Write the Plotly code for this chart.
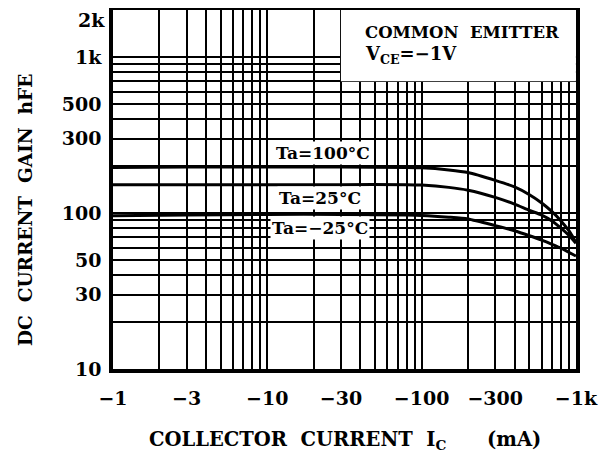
import plotly.graph_objects as go
import math

# ---- data ----
ic_ma = [1, 3, 10, 30, 80, 100, 150, 200, 300, 400, 500, 600, 700, 800, 900, 1000]
hfe_100 = [196, 197, 197, 197, 196, 195, 189, 182, 162, 147, 131, 116, 102, 89, 77, 65]
hfe_25 = [152, 152, 152, 152, 152, 151, 146, 140, 126, 114, 104, 97, 89, 80, 72, 64]
hfe_m25 = [96, 97, 98, 98, 97, 96.5, 94, 91.5, 83, 77, 71.5, 67, 63, 59.5, 56, 53]
series = [("Ta=100°C", hfe_100), ("Ta=25°C", hfe_25), ("Ta=−25°C", hfe_m25)]

x_tickvals = [m * d for d in (1, 10, 100) for m in range(1, 10)] + [1000]
x_labels = {1: "−1", 3: "−3", 10: "−10", 30: "−30", 100: "−100", 300: "−300", 1000: "−1k"}
y_tickvals = [m * d for d in (10, 100) for m in range(1, 10)] + [1000, 2000]
y_labels = {10: "10", 30: "30", 50: "50", 100: "100", 300: "300", 500: "500", 1000: "1k", 2000: "2k"}
Y_TOP = 2000  # top tick: its label is nudged down as an annotation so it stays on the page

FONT = "DejaVu Serif"
TICKFONT = dict(family=FONT, size=19, color="black", weight="bold")

fig = go.Figure()
for name, vals in series:
    fig.add_trace(go.Scatter(x=ic_ma, y=vals, mode="lines", name=name,
                             line=dict(color="black", width=3, shape="spline", smoothing=0.6),
                             showlegend=False))

lg = math.log10
# label annotations (positions in log units for log axes)
labels = [("Ta=100°C", 23.0, 243), ("Ta=25°C", 22.0, 125), ("Ta=−25°C", 22.0, 80)]
for txt, xv, yv in labels:
    fig.add_annotation(x=lg(xv), y=lg(yv), xref="x", yref="y", text=txt, showarrow=False,
                       font=dict(family=FONT, size=17, color="black", weight="bold"),
                       bgcolor="white", borderpad=1)

# condition box
fig.add_shape(type="rect", xref="x", yref="y", x0=30, x1=1000, y0=700, y1=2000,
              fillcolor="white", line=dict(width=0), layer="between")
fig.add_annotation(x=lg(42), y=lg(1440), xref="x", yref="y", xanchor="left",
                   text="COMMON\u00a0\u00a0EMITTER", showarrow=False,
                   font=dict(family=FONT, size=16.5, color="black", weight="bold"))
fig.add_annotation(x=lg(42), y=lg(1030), xref="x", yref="y", xanchor="left",
                   text="V<sub>CE</sub>=−1V", showarrow=False,
                   font=dict(family=FONT, size=18, color="black", weight="bold"))

# top y tick label
fig.add_annotation(x=0, y=lg(Y_TOP), xref="paper", yref="y", xanchor="right", yanchor="middle",
                   xshift=-6, yshift=-10, text=y_labels[Y_TOP], showarrow=False, font=TICKFONT)

# axis titles
fig.add_annotation(x=-0.215, y=0.443, xref="paper", yref="paper", textangle=-90,
                   text="DC\u00a0\u00a0CURRENT\u00a0\u00a0GAIN\u00a0\u00a0hFE", showarrow=False,
                   font=dict(family=FONT, size=18.5, color="black", weight="bold"))
fig.add_annotation(x=0.5, y=-0.198, xref="paper", yref="paper", yanchor="middle",
                   text="COLLECTOR\u00a0\u00a0CURRENT\u00a0\u00a0I<sub>C</sub>\u00a0\u00a0\u00a0\u00a0\u00a0\u00a0(mA)",
                   showarrow=False,
                   font=dict(family=FONT, size=19.5, color="black", weight="bold"))

axis_common = dict(type="log", showgrid=True, gridcolor="black", gridwidth=1.5,
                   showline=True, linecolor="black", linewidth=3.5, mirror=True,
                   ticks="", zeroline=False, automargin=False, ticklabeloverflow="allow",
                   tickfont=TICKFONT)
fig.update_xaxes(range=[0, 3.0005], tickvals=x_tickvals,
                 ticktext=[x_labels.get(v, "") for v in x_tickvals],
                 ticklabelstandoff=9, **axis_common)
fig.update_yaxes(range=[1, lg(2000) + 0.0005], tickvals=y_tickvals,
                 ticktext=["" if v == Y_TOP else y_labels.get(v, "") for v in y_tickvals],
                 ticklabelstandoff=4, **axis_common)

# the page body adds an 8px offset, so the figure is sized to compensate
fig.update_layout(width=601, height=453, margin=dict(l=105, r=33, t=2, b=92, autoexpand=False),
                  paper_bgcolor="white", plot_bgcolor="white")
fig.write_html("out.html")
